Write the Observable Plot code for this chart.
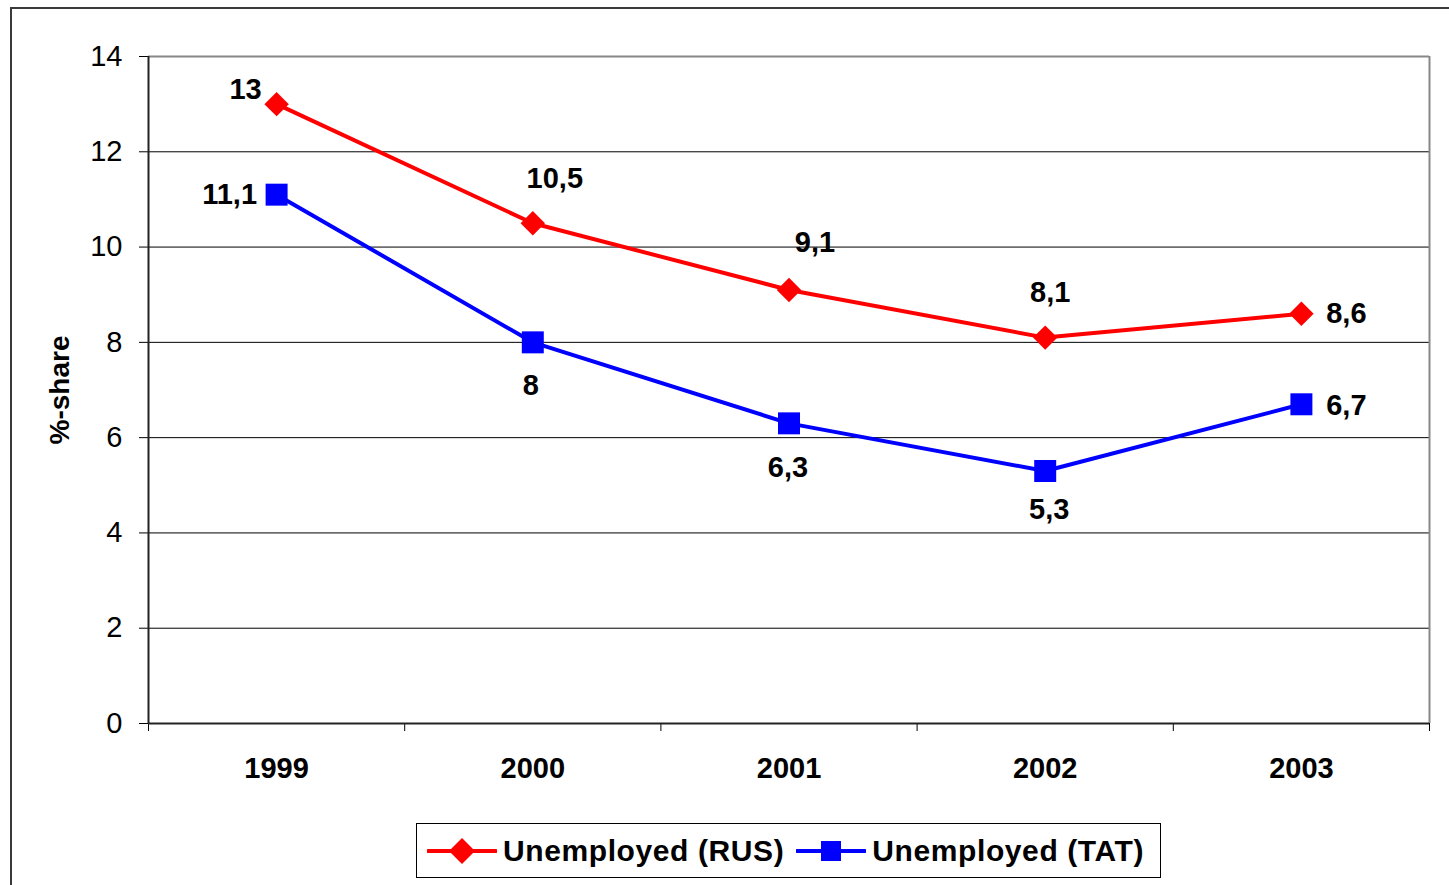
<!DOCTYPE html>
<html>
<head>
<meta charset="utf-8">
<script src="https://cdn.jsdelivr.net/npm/d3@7"></script>
<script src="https://cdn.jsdelivr.net/npm/@observablehq/plot@0.6"></script>
<style>
  html, body { margin: 0; padding: 0; background: #fff; }
  body { font-family: "Liberation Sans", Arial, sans-serif; }
  #wrap { position: relative; width: 1449px; height: 885px; overflow: hidden; }
  #frame { position: absolute; left: 10px; top: 7px; width: 1500px; height: 900px;
           border-top: 2px solid #3a3a3a; border-left: 2px solid #3a3a3a; box-sizing: border-box; }
  #chart { position: absolute; left: 0; top: 0; }
  #legend { position: absolute; left: 416px; top: 823px; width: 745px; height: 55px;
            border: 1px solid #000; box-sizing: border-box; display: flex; align-items: center;
            font-family: "Liberation Sans", Arial, sans-serif; font-weight: bold; font-size: 30px;
            letter-spacing: 0.6px; color: #000; white-space: nowrap; }
  .item { display: flex; align-items: center; }
  .item svg { display: block; margin-right: 6px; }
</style>
</head>
<body>
<div id="wrap">
  <div id="frame"></div>
  <div id="chart"></div>
  <div id="legend"></div>
</div>
<script>
// ---- data ----
const years = [1999, 2000, 2001, 2002, 2003];
const rusValues = [13, 10.5, 9.1, 8.1, 8.6];
const tatValues = [11.1, 8, 6.3, 5.3, 6.7];
const seriesNames = ["Unemployed (RUS)", "Unemployed (TAT)"];
const yTicks = [0, 2, 4, 6, 8, 10, 12, 14];
const yTitle = "%-share";

// label placement (style config: dx, dy in px)
const rusLabelOffsets = [[-31, -14], [22, -45], [26, -47], [5, -45], [45, 0]];
const tatLabelOffsets = [[-47, 0], [-2, 43], [-1, 44], [4, 39], [45, 1]];

const fmt = v => String(v).replace(".", ",");
const rus = years.map((y, i) => ({year: y, value: rusValues[i]}));
const tat = years.map((y, i) => ({year: y, value: tatValues[i]}));
const boundaries = [years[0] - 0.5, ...years.map(y => y + 0.5)];
const gridVals = yTicks.filter(v => v > 0 && v < d3.max(yTicks));

const RED = "#ff0000", BLUE = "#0000ff";

const labelMarks = (data, offsets) => data.map((d, i) =>
  Plot.text([d], {x: "year", y: "value", text: d => fmt(d.value),
    dx: offsets[i][0], dy: offsets[i][1], fontSize: 29, fontWeight: "bold", fill: "#000"}));

const chart = Plot.plot({
  width: 1449,
  height: 800,
  marginLeft: 148,
  marginRight: 20,
  marginTop: 56,
  marginBottom: 77,
  style: {fontFamily: "'Liberation Sans', Arial, sans-serif", color: "#000", background: "transparent"},
  x: {type: "linear", domain: [boundaries[0], boundaries[boundaries.length - 1]]},
  y: {domain: [0, 14]},
  marks: [
    Plot.ruleY(gridVals, {stroke: "#000", strokeWidth: 1}),
    Plot.ruleY([14], {stroke: "#888", strokeWidth: 2}),
    Plot.ruleX([boundaries[boundaries.length - 1]], {stroke: "#888", strokeWidth: 2}),
    Plot.axisY({ticks: yTicks, tickSize: 9, tickPadding: 17, fontSize: 29, label: null,
      tickFormat: d => String(d), stroke: "#000"}),
    Plot.axisX({ticks: boundaries, tickSize: 8, tickFormat: () => "", label: null, stroke: "#000"}),
    Plot.axisX({ticks: years, tickSize: 0, tickPadding: 34, fontSize: 29, fontWeight: "bold",
      tickFormat: d => String(d), label: null}),
    Plot.ruleX([boundaries[0]], {stroke: "#222", strokeWidth: 2}),
    Plot.ruleY([0], {stroke: "#222", strokeWidth: 2}),
    Plot.text([yTitle], {frameAnchor: "left", textAnchor: "middle", dx: -88, text: d => d, rotate: -90,
      fontSize: 28, fontWeight: "bold", fill: "#000"}),
    Plot.line(rus, {x: "year", y: "value", stroke: RED, strokeWidth: 4}),
    Plot.line(tat, {x: "year", y: "value", stroke: BLUE, strokeWidth: 4}),
    Plot.dot(rus, {x: "year", y: "value", symbol: "diamond2", r: 11, fill: RED, stroke: "none"}),
    Plot.dot(tat, {x: "year", y: "value", symbol: "square", r: 12.4, fill: BLUE, stroke: "none"}),
    ...labelMarks(rus, rusLabelOffsets),
    ...labelMarks(tat, tatLabelOffsets)
  ]
});
document.getElementById("chart").appendChild(chart);

// legend
const legend = document.getElementById("legend");
const swatch = (color, shape) => {
  const shapeSvg = shape === "diamond"
    ? `<path d="M35,14 L48,27 L35,40 L22,27 Z" fill="${color}"/>`
    : `<rect x="25" y="17" width="20" height="20" fill="${color}"/>`;
  return `<svg width="70" height="54" viewBox="0 0 70 54"><line x1="1" y1="27" x2="69" y2="27" stroke="${color}" stroke-width="4" stroke-linecap="round"/>${shapeSvg}</svg>`;
};
legend.innerHTML =
  `<div class="item" style="margin-left:10px">${swatch(RED, "diamond")}<span>${seriesNames[0]}</span></div>` +
  `<div class="item" style="margin-left:12px">${swatch(BLUE, "square")}<span>${seriesNames[1]}</span></div>`;
</script>
</body>
</html>
